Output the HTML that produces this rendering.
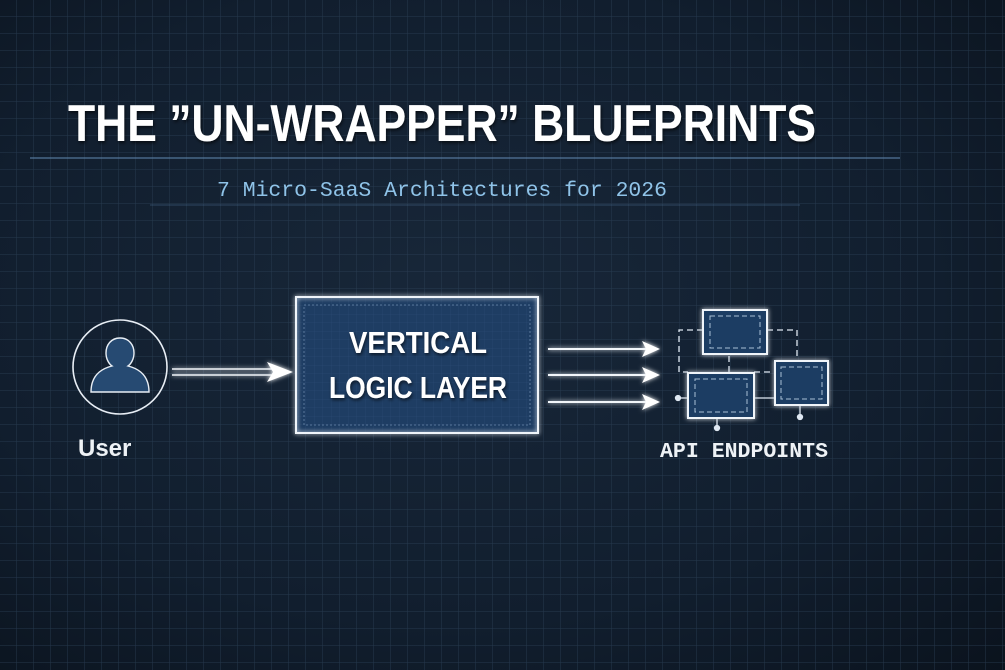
<!DOCTYPE html>
<html><head><meta charset="utf-8"><style>
html,body{margin:0;padding:0;background:#0f1a28;}
svg{display:block}
</style></head><body>
<svg width="1005" height="670" viewBox="0 0 1005 670" xmlns="http://www.w3.org/2000/svg">
<defs>
<radialGradient id="bg" cx="0.45" cy="0.45" r="0.8">
<stop offset="0" stop-color="#182739"/><stop offset="0.6" stop-color="#111e2e"/><stop offset="1" stop-color="#0a121c"/>
</radialGradient>
<pattern id="g" width="17" height="17" patternUnits="userSpaceOnUse">
<path d="M17 0V17H0" fill="none" stroke="#2f445c" stroke-width="1" opacity="0.7"/>
</pattern>
<pattern id="g2" width="8.5" height="8.5" patternUnits="userSpaceOnUse">
<path d="M8.5 0V8.5H0" fill="none" stroke="#3b5c85" stroke-width="0.5" opacity="0.5"/>
</pattern>
<filter id="glow" x="-20%" y="-20%" width="140%" height="140%"><feGaussianBlur stdDeviation="2.5" result="b"/><feMerge><feMergeNode in="b"/><feMergeNode in="SourceGraphic"/></feMerge></filter>
<filter id="sh"><feDropShadow dx="1" dy="2" stdDeviation="1.5" flood-color="#000" flood-opacity="0.6"/></filter>
</defs>
<rect width="1005" height="670" fill="url(#bg)"/>
<rect width="1005" height="670" fill="url(#g)"/>
<line x1="30" y1="158" x2="900" y2="158" stroke="#5f86ad" stroke-width="1.5" opacity="0.7"/>
<line x1="150" y1="205" x2="800" y2="205" stroke="#4a6d92" stroke-width="1" opacity="0.5"/>
<text x="68" y="141" font-family="Liberation Sans, sans-serif" font-weight="bold" font-size="52" fill="#fff" textLength="748" lengthAdjust="spacingAndGlyphs" filter="url(#sh)">THE ”UN-WRAPPER” BLUEPRINTS</text>
<text x="217" y="196" font-family="Liberation Mono, monospace" font-size="21" fill="#8fc3e8" textLength="450" lengthAdjust="spacingAndGlyphs">7 Micro-SaaS Architectures for 2026</text>

<circle cx="120" cy="367" r="47" fill="none" stroke="#e8eef5" stroke-width="1.6"/>
<path d="M120 338c-9 0-14 7-14 15c0 6 3 11 6 13c-12 3-21 10-21 26h58c0-16-9-23-21-26c3-2 6-7 6-13c0-8-5-15-14-15z" fill="#264a72" stroke="#e8eef5" stroke-width="1.4"/>
<text x="78" y="456" font-family="Liberation Sans, sans-serif" font-weight="bold" font-size="24" fill="#eef2f6">User</text>
<g filter="url(#glow)">
<line x1="172" y1="369" x2="278" y2="369" stroke="#f2f6fa" stroke-width="1.6"/>
<line x1="172" y1="375" x2="278" y2="375" stroke="#f2f6fa" stroke-width="1.6"/>
<path d="M267 362L293 372L267 382L273 372Z" fill="#fff"/>
</g>

<rect x="296" y="297" width="242" height="136" fill="#1e3d63"/>
<rect x="296" y="297" width="242" height="136" fill="url(#g2)"/>
<rect x="304" y="305" width="226" height="120" fill="none" stroke="#8aa8c8" stroke-width="0.8" stroke-dasharray="2 2" opacity="0.7"/>
<rect x="296" y="297" width="242" height="136" fill="none" stroke="#f0f5fa" stroke-width="2" filter="url(#glow)"/>
<text x="418" y="353" text-anchor="middle" font-family="Liberation Sans, sans-serif" font-weight="bold" font-size="31" fill="#fff" textLength="138" lengthAdjust="spacingAndGlyphs" filter="url(#sh)">VERTICAL</text>
<text x="418" y="398" text-anchor="middle" font-family="Liberation Sans, sans-serif" font-weight="bold" font-size="31" fill="#fff" textLength="178" lengthAdjust="spacingAndGlyphs" filter="url(#sh)">LOGIC LAYER</text>

<g filter="url(#glow)" fill="#fff" stroke="#f2f6fa">
<line x1="548" y1="349" x2="648" y2="349" stroke-width="2"/>
<path d="M642 341L660 349L642 357L646 349Z" stroke="none"/>
<line x1="548" y1="375" x2="648" y2="375" stroke-width="2"/>
<path d="M642 367L660 375L642 383L646 375Z" stroke="none"/>
<line x1="548" y1="402" x2="648" y2="402" stroke-width="2"/>
<path d="M642 394L660 402L642 410L646 402Z" stroke="none"/>
</g>

<g stroke="#dfe8f2" stroke-width="1.3" fill="none" stroke-dasharray="6 4">
<path d="M703 330H679V372H688"/>
<path d="M767 330H797V361"/>
<line x1="729" y1="356" x2="729" y2="372"/>
<line x1="754" y1="398" x2="775" y2="398" stroke-dasharray="none"/>
<line x1="754" y1="372" x2="775" y2="372"/>
</g>
<g stroke="#dfe8f2" stroke-width="1.3">
<line x1="678" y1="398" x2="688" y2="398"/><circle cx="678" cy="398" r="2.5" fill="#dfe8f2"/>
<line x1="717" y1="418" x2="717" y2="428"/><circle cx="717" cy="428" r="2.5" fill="#dfe8f2"/>
<line x1="800" y1="405" x2="800" y2="417"/><circle cx="800" cy="417" r="2.5" fill="#dfe8f2"/>
</g>
<g filter="url(#glow)">
<rect x="703" y="310" width="64" height="44" fill="#1e3d63" stroke="#f0f5fa" stroke-width="2"/>
<rect x="688" y="373" width="66" height="45" fill="#1e3d63" stroke="#f0f5fa" stroke-width="2"/>
<rect x="775" y="361" width="53" height="44" fill="#1e3d63" stroke="#f0f5fa" stroke-width="2"/>
</g>
<g fill="none" stroke="#a8bfd6" stroke-width="1" stroke-dasharray="5 3">
<rect x="710" y="316" width="50" height="32"/>
<rect x="695" y="379" width="52" height="33"/>
<rect x="781" y="367" width="41" height="32"/>
</g>
<text x="660" y="457" font-family="Liberation Mono, monospace" font-weight="bold" font-size="21" fill="#eef2f6" textLength="168" lengthAdjust="spacingAndGlyphs">API ENDPOINTS</text>
</svg>
</body></html>
